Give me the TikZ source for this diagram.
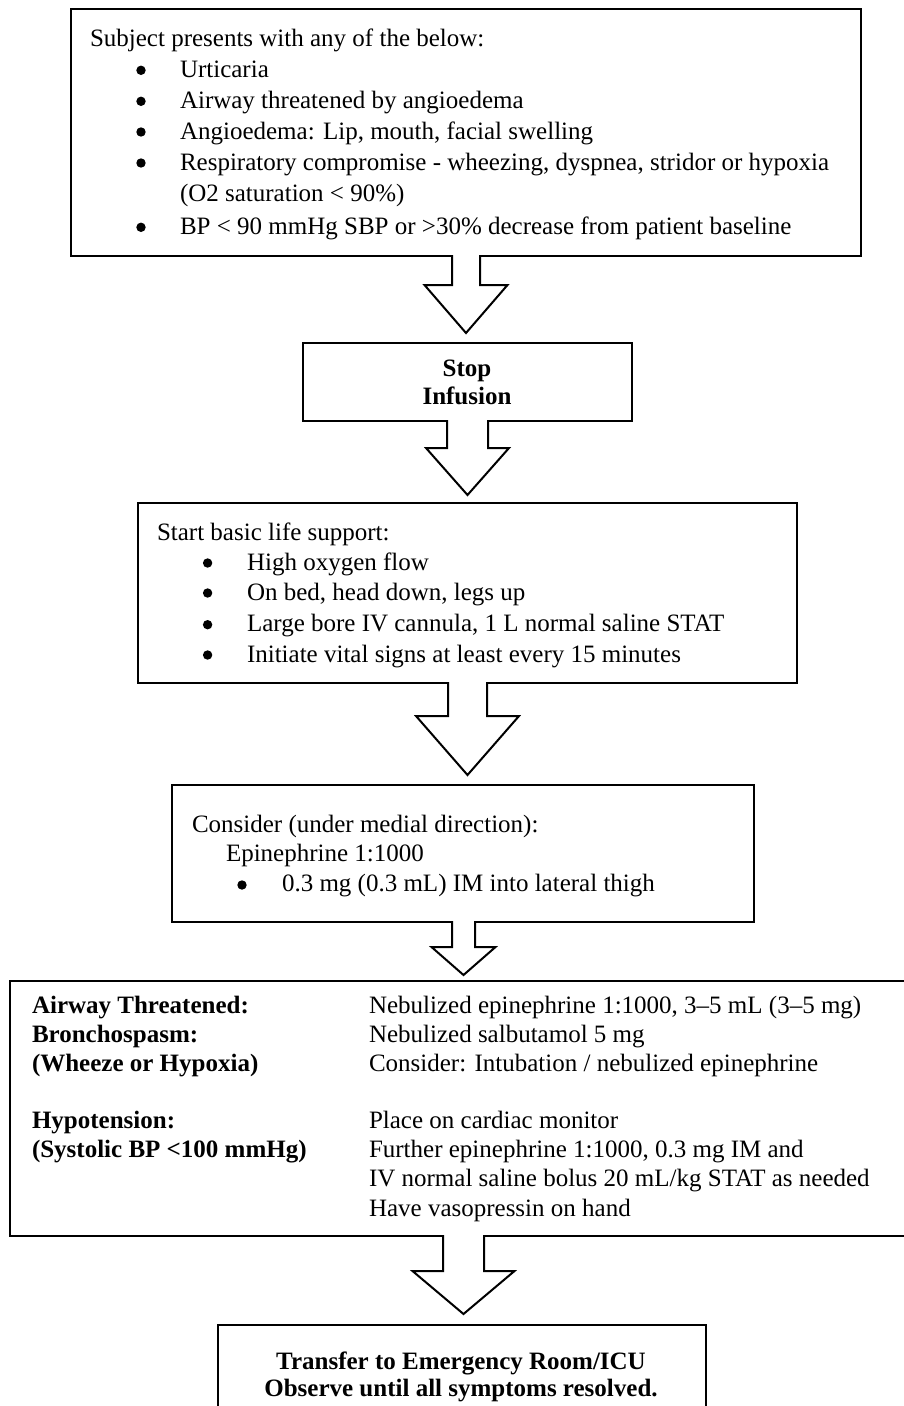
\documentclass[tikz,border=0pt]{standalone}
\usepackage{fontspec}
\setmainfont{Liberation Serif}
\usetikzlibrary{calc}
\tikzset{
 box/.style={draw=black, line width=2pt, fill=white, outer sep=0pt, inner sep=0pt, anchor=north west},
 txt/.style={inner sep=0pt, outer sep=0pt, anchor=base west, font=\fontsize{25}{30}\selectfont},
 btxt/.style={inner sep=0pt, outer sep=0pt, anchor=base west, font=\fontsize{25}{30}\selectfont\bfseries},
 ctxt/.style={btxt, anchor=base},
 bul/.style={circle, fill=black, inner sep=0pt, outer sep=0pt, minimum size=9.4pt},
 blk/.style={draw=black, line width=2pt, line join=miter},
}
% #1 source box, #2 target box, #3 centre x, #4 shaft half width, #5 head half width, #6 shaft length, #7 gap tip-target
\newcommand\blockarrow[7]{%
 \path[fill=white] let \p1=(#1.south), \p2=(#2.north) in
   (#3pt-#4pt,\y1+1.5pt) -- (#3pt-#4pt,\y1-#6pt) -- (#3pt-#5pt,\y1-#6pt) -- (#3pt,\y2+#7pt)
   -- (#3pt+#5pt,\y1-#6pt) -- (#3pt+#4pt,\y1-#6pt) -- (#3pt+#4pt,\y1+1.5pt) -- cycle;
 \draw[blk] let \p1=(#1.south), \p2=(#2.north) in
   (#3pt-#4pt,\y1+1pt) -- (#3pt-#4pt,\y1-#6pt) -- (#3pt-#5pt,\y1-#6pt) -- (#3pt,\y2+#7pt)
   -- (#3pt+#5pt,\y1-#6pt) -- (#3pt+#4pt,\y1-#6pt) -- (#3pt+#4pt,\y1+1pt);
}
\begin{document}
\begin{tikzpicture}[x=1pt,y=-1pt]
\clip (0,0) rectangle (904,1406);
\fill[white] (0,0) rectangle (904,1406);

% boxes
\node[box, minimum width=790pt, minimum height=247pt] (b1) at (71,9) {};
\node[box, minimum width=329pt, minimum height=78pt] (b2) at (303,343) {};
\node[box, minimum width=659.5pt, minimum height=180pt] (b3) at (137.5,503) {};
\node[box, minimum width=582pt, minimum height=137pt] (b4) at (172,785) {};
\node[box, minimum width=910pt, minimum height=255pt] (b5) at (10,981) {};
\node[box, minimum width=488pt, minimum height=100pt] (b6) at (218,1325) {};

% block arrows
\blockarrow{b1}{b2}{466}{14}{41.5}{29}{10}
\blockarrow{b2}{b3}{467.5}{20.5}{41.5}{27}{8}
\blockarrow{b3}{b4}{467.5}{19.5}{51.5}{33}{10}
\blockarrow{b4}{b5}{463.5}{11.5}{32}{25}{6}
\blockarrow{b5}{b6}{463.5}{20.5}{51}{35}{11}

% box 1
\node[txt] (t11) at (90,46.7) {Subject presents with any of the below:};
\node[bul] (u11) at (141,70.3) {};
\node[txt] (t12) at (180,77.3) {Urticaria};
\node[bul] (u12) at (141,101.3) {};
\node[txt] (t13) at (180,108.3) {Airway threatened by angioedema};
\node[bul] (u13) at (141,132) {};
\node[txt] (t14) at (180,139) {Angioedema: Lip, mouth, facial swelling};
\node[bul] (u14) at (141,163) {};
\node[txt] (t15) at (180,170) {Respiratory compromise - wheezing, dyspnea, stridor or hypoxia};
\node[txt] (t16) at (180,201) {(O2 saturation < 90\%)};
\node[bul] (u15) at (141,227.3) {};
\node[txt] (t17) at (180,234.3) {BP < 90 mmHg SBP or >30\% decrease from patient baseline};

% box 2
\node[ctxt] (t21) at (467,376) {Stop};
\node[ctxt] (t22) at (467,404.3) {Infusion};

% box 3
\node[txt] (t31) at (157,540) {Start basic life support:};
\node[bul] (u31) at (207.6,563) {};
\node[txt] (t32) at (247,570) {High oxygen flow};
\node[bul] (u32) at (207.6,593) {};
\node[txt] (t33) at (247,600) {On bed, head down, legs up};
\node[bul] (u33) at (207.6,624.7) {};
\node[txt] (t34) at (247,631.7) {Large bore IV cannula, 1 L normal saline STAT};
\node[bul] (u34) at (207.6,655) {};
\node[txt] (t35) at (247,662) {Initiate vital signs at least every 15 minutes};

% box 4
\node[txt] (t41) at (192,832.3) {Consider (under medial direction):};
\node[txt] (t42) at (226,861) {Epinephrine 1:1000};
\node[bul] (u41) at (242,885) {};
\node[txt] (t43) at (282,891.7) {0.3 mg (0.3 mL) IM into lateral thigh};

% box 5
\node[btxt] (l51) at (32,1013.3) {Airway Threatened:};
\node[btxt] (l52) at (32,1042.7) {Bronchospasm:};
\node[btxt] (l53) at (32,1071.7) {(Wheeze or Hypoxia)};
\node[btxt] (l54) at (32,1128.3) {Hypotension:};
\node[btxt] (l55) at (32,1157.3) {(Systolic BP <100 mmHg)};
\node[txt] (r51) at (369,1013.3) {Nebulized epinephrine 1:1000, 3–5 mL (3–5 mg)};
\node[txt] (r52) at (369,1042.7) {Nebulized salbutamol 5 mg};
\node[txt] (r53) at (369,1071.7) {Consider: Intubation / nebulized epinephrine};
\node[txt] (r54) at (369,1128.3) {Place on cardiac monitor};
\node[txt] (r55) at (369,1157.3) {Further epinephrine 1:1000, 0.3 mg IM and};
\node[txt] (r56) at (369,1186) {IV normal saline bolus 20 mL/kg STAT as needed};
\node[txt] (r57) at (369,1216) {Have vasopressin on hand};

% box 6
\node[ctxt] (t61) at (461,1369.3) {Transfer to Emergency Room/ICU};
\node[ctxt] (t62) at (461,1396.7) {Observe until all symptoms resolved.};
\end{tikzpicture}
\end{document}
